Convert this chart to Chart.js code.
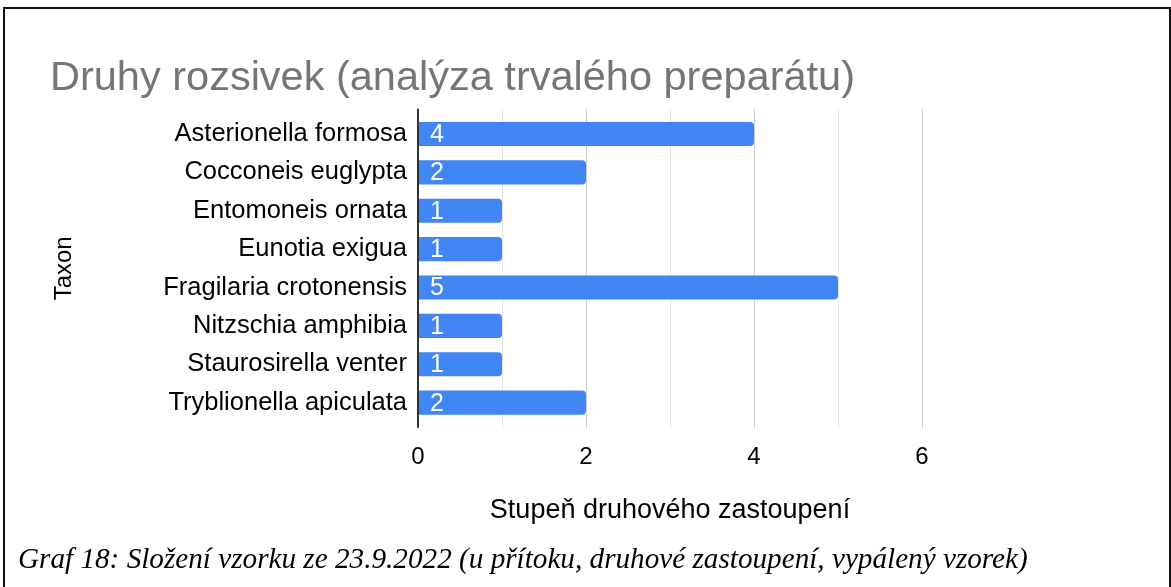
<!DOCTYPE html>
<html lang="cs">
<head>
  <meta charset="UTF-8" />
  <title>Druhy rozsivek</title>
  <script src="https://cdn.jsdelivr.net/npm/chart.js"></script>
  <style>
    html, body {
      margin: 0;
      padding: 0;
      width: 1171px;
      height: 587px;
      overflow: hidden;
      background: #fff;
    }
    .frame {
      position: absolute;
      left: 3px;
      top: 7px;
      width: 1164px;
      height: 620px;
      border: 2px solid #111;
      pointer-events: none;
    }
    .chart-box {
      position: absolute;
      left: 0;
      top: 0;
      width: 1171px;
      height: 530px;
    }
    .caption {
      position: absolute;
      left: 18px;
      top: 538px;
      font-family: "Liberation Serif", "Times New Roman", serif;
      font-style: italic;
      font-size: 29.2px;
      line-height: 40px;
      color: #000;
      white-space: nowrap;
    }
  </style>
</head>
<body>
  <div class="chart-box"><canvas id="taxaChart"></canvas></div>
  <div class="frame"></div>
  <div class="caption">Graf 18: Složení vzorku ze 23.9.2022 (u přítoku, druhové zastoupení, vypálený vzorek)</div>

  <script>
    // taxa found in the slide and their abundance grade
    const taxa = [
      "Asterionella formosa",
      "Cocconeis euglypta",
      "Entomoneis ornata",
      "Eunotia exigua",
      "Fragilaria crotonensis",
      "Nitzschia amphibia",
      "Staurosirella venter",
      "Tryblionella apiculata"
    ];
    const grades = [4, 2, 1, 1, 5, 1, 1, 2];
    const xMin = 0;
    const xMax = 6;

    const FONT = "'Liberation Sans', Arial, sans-serif";

    // even gridlines darker, odd ones lighter, zero line almost black
    function gridColor(ctx) {
      const v = ctx.tick ? ctx.tick.value : 1;
      if (v === 0) return "#333333";
      return v % 2 === 0 ? "#cccccc" : "#e6e6e6";
    }
    function gridWidth(ctx) {
      return ctx.tick && ctx.tick.value === 0 ? 2 : 1;
    }

    // white value labels at the start of each bar
    const valueLabels = {
      id: "valueLabels",
      afterDatasetsDraw(chart) {
        const ctx = chart.ctx;
        const meta = chart.getDatasetMeta(0);
        ctx.save();
        ctx.fillStyle = "#ffffff";
        ctx.font = "25px " + FONT;
        ctx.textBaseline = "middle";
        ctx.textAlign = "left";
        meta.data.forEach((bar, i) => {
          ctx.fillText(String(grades[i]), bar.base + 11, bar.y + 1);
        });
        ctx.restore();
      }
    };

    new Chart(document.getElementById("taxaChart"), {
      type: "bar",
      data: {
        labels: taxa,
        datasets: [{
          data: grades,
          backgroundColor: "#4285f4",
          borderRadius: 4,
          barPercentage: 0.63,
          categoryPercentage: 1
        }]
      },
      options: {
        indexAxis: "y",
        responsive: true,
        maintainAspectRatio: false,
        animation: false,
        layout: { padding: { left: 50, top: 54, right: 249, bottom: 3 } },
        plugins: {
          legend: { display: false },
          tooltip: { enabled: false },
          title: {
            display: true,
            text: "Druhy rozsivek (analýza trvalého preparátu)",
            align: "start",
            color: "#757575",
            font: { family: FONT, size: 41.5, weight: "normal" },
            padding: { top: 0, bottom: 5 }
          }
        },
        scales: {
          x: {
            position: "bottom",
            min: xMin,
            max: xMax,
            border: { display: false },
            grid: { color: gridColor, lineWidth: gridWidth, tickLength: 6 },
            ticks: {
              stepSize: 1,
              padding: 15,
              color: "#000",
              font: { family: FONT, size: 24 },
              callback: (v) => (v % 2 === 0 ? String(v) : "")
            },
            title: {
              display: true,
              text: "Stupeň druhového zastoupení",
              color: "#000",
              font: { family: FONT, size: 27 },
              padding: { top: 8, bottom: 0 }
            }
          },
          xTop: {
            type: "linear",
            position: "top",
            min: xMin,
            max: xMax,
            border: { display: false },
            grid: { color: gridColor, lineWidth: gridWidth, tickLength: 6, drawOnChartArea: false },
            ticks: { stepSize: 1, display: false }
          },
          y: {
            border: { display: false },
            grid: { display: false, drawTicks: false },
            ticks: {
              padding: 11,
              color: "#000",
              font: { family: FONT, size: 25.5 }
            },
            title: {
              display: true,
              text: "Taxon",
              color: "#000",
              font: { family: FONT, size: 24 },
              padding: { top: 0, bottom: 0 }
            },
            afterFit(scale) { scale.width = 368; }
          }
        }
      },
      plugins: [valueLabels]
    });
  </script>
</body>
</html>
